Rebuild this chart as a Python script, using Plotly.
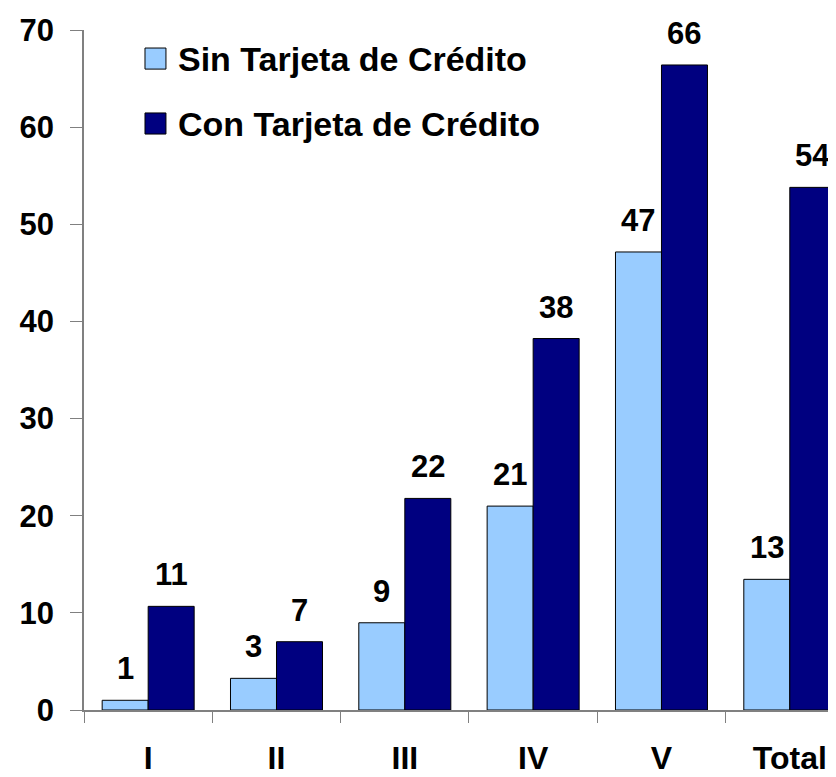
import plotly.graph_objects as go

# data
categories = ["I", "II", "III", "IV", "V", "Total"]
sin_tarjeta = [1.0, 3.26, 8.98, 20.99, 47.15, 13.45]
con_tarjeta = [10.67, 7.03, 21.78, 38.24, 66.4, 53.8]
series_names = ["Sin Tarjeta de Crédito", "Con Tarjeta de Crédito"]
y_ticks = [0, 10, 20, 30, 40, 50, 60, 70]

colors = ["#99CCFF", "#000080"]
font_family = "Arial, Liberation Sans, sans-serif"
axis_gray = "#808080"


def bold(size):
    return dict(size=size, color="black", family=font_family, weight="bold")


fig = go.Figure()

for name, vals, col in zip(series_names, [sin_tarjeta, con_tarjeta], colors):
    fig.add_trace(go.Bar(
        x=categories, y=vals, name=name,
        marker=dict(color=col, line=dict(color="black", width=1)),
        showlegend=False,
    ))

# value labels above the bars (offset left/right for the two groups)
for vals, shift in [(sin_tarjeta, -23), (con_tarjeta, 23)]:
    for c, v in zip(categories, vals):
        fig.add_annotation(
            x=c, y=v, text=f"{v:.0f}", showarrow=False,
            xshift=shift, yshift=12, yanchor="bottom",
            font=bold(31),
        )

# hand-drawn legend (larger squares than plotly's bar legend)
for i, (name, col) in enumerate(zip(series_names, colors)):
    yc = 0.958 - i * 0.0955
    fig.add_shape(
        type="rect", xref="paper", yref="paper",
        x0=0.0811, x1=0.109, y0=yc - 0.0155, y1=yc + 0.0155,
        fillcolor=col, line=dict(color="black", width=1),
    )
    fig.add_annotation(
        xref="paper", yref="paper", x=0.1223, y=yc,
        xanchor="left", yanchor="middle", text=name, showarrow=False,
        font=bold(34),
    )

# page body has an 8px margin, so the figure is 8px smaller than the window
fig.update_layout(
    width=828, height=769,
    margin=dict(l=76, r=0, t=21.5, b=67),
    barmode="group", bargap=0.283, bargroupgap=0,
    plot_bgcolor="white", paper_bgcolor="white",
    font=bold(31),
)

fig.update_xaxes(
    range=[-0.5, 5.36], showline=True, linecolor=axis_gray, linewidth=1.5,
    ticks="outside", tickson="boundaries", ticklen=11, tickcolor=axis_gray,
    showgrid=False, ticklabelstandoff=19, automargin=False,
    tickfont=bold(32),
)
fig.update_yaxes(
    range=[0, 70], tickvals=y_ticks, showline=True, linecolor=axis_gray,
    linewidth=1.5, ticks="outside", ticklen=12, tickcolor=axis_gray,
    showgrid=False, zeroline=False, ticklabelstandoff=10, automargin=False,
    tickfont=bold(31),
)

fig.write_html("out.html")
